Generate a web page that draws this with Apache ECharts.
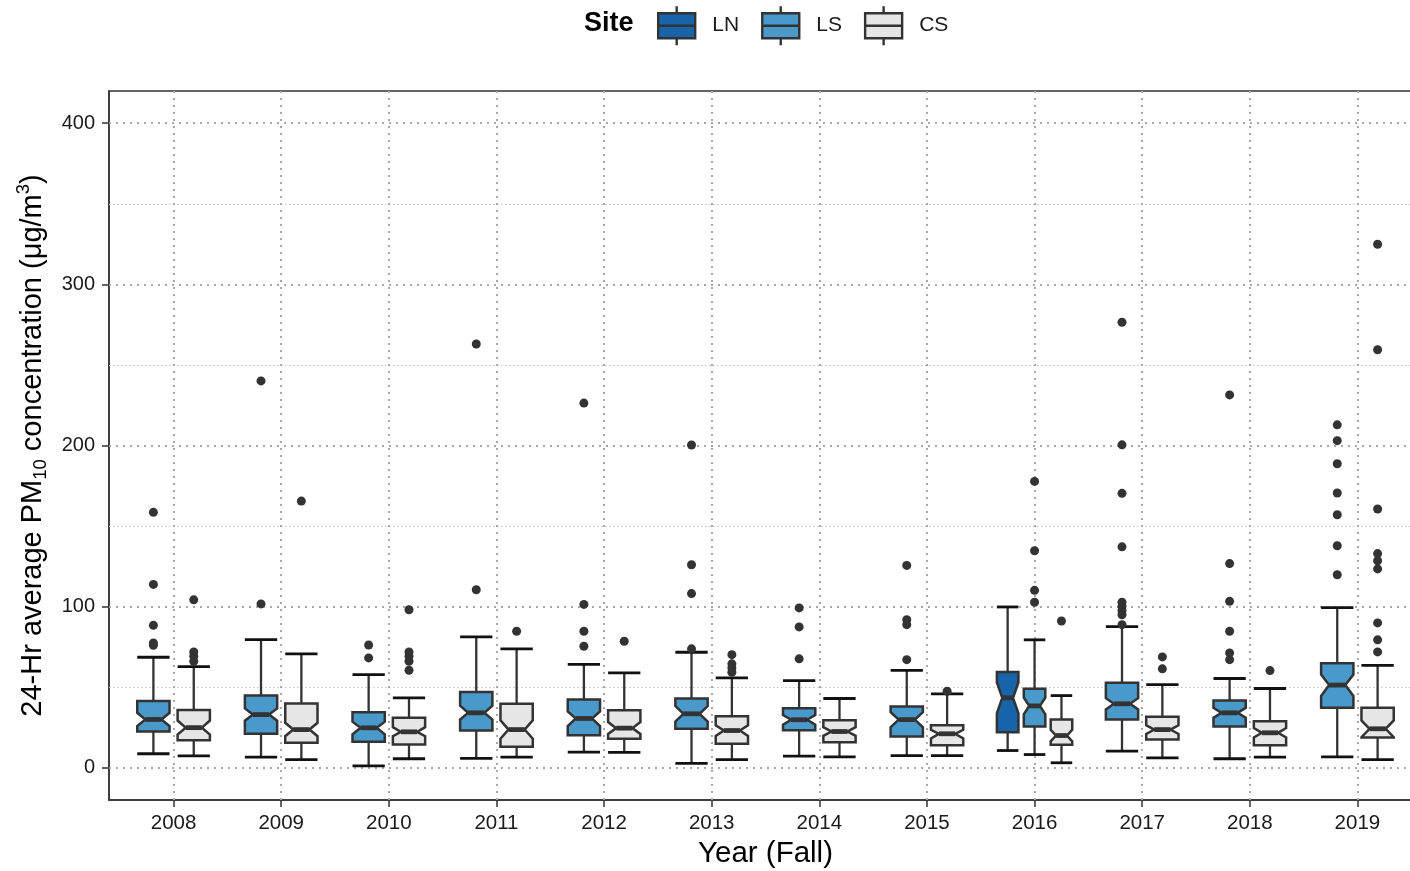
<!DOCTYPE html>
<html>
<head>
<meta charset="utf-8">
<script src="https://cdn.jsdelivr.net/npm/echarts@6/dist/echarts.min.js"></script>
<style>html,body{margin:0;padding:0;background:#fff;overflow:hidden;}#c{width:1410px;height:871px;}</style>
</head>
<body>
<div id="c"></div>
<script>
// ---------------- data ----------------
const years = ['2008','2009','2010','2011','2012','2013','2014','2015','2016','2017','2018','2019'];
const sites = ['LN','LS','CS'];
const yTicks = [0, 100, 200, 300, 400];
const yMinor = [50, 150, 250, 350];

// [min, q1, median, q3, max]  (null = no box that year)
const LN_stats = [null,null,null,null,null,null,null,null,[10.7,22.1,43.4,59.5,99.8],null,null,null];
const LN_notch = [null,null,null,null,null,null,null,null,[33.9,52.9],null,null,null];
const LN_out   = [[],[],[],[],[],[],[],[],[],[],[],[]];

const LS_stats = [
  [8.7,22.5,30.0,41.4,68.6],
  [6.6,21.1,33.0,44.8,79.5],
  [1.2,16.1,24.8,34.5,57.8],
  [5.8,23.1,34.1,47.1,81.2],
  [9.7,20.2,30.6,42.3,64.2],
  [2.7,24.2,33.5,43.0,71.7],
  [7.2,23.3,29.8,37.0,54.1],
  [7.6,19.4,29.9,38.0,60.5],
  [8.2,25.6,38.4,49.0,79.4],
  [10.3,29.9,39.7,52.7,87.6],
  [5.6,25.6,34.1,41.7,55.4],
  [6.8,37.2,51.3,64.9,99.4]
];
const LS_notch = [
  [25.9,34.1],[29.2,36.8],[20.8,28.6],[29.9,38.5],[25.9,35.0],[28.7,38.3],
  [26.8,32.7],[25.1,34.5],[33.2,43.6],[36.2,43.2],[31.0,37.2],[44.6,57.9]
];
const LS_out = [
  [158.5,113.8,88.4,77.5,76.0],
  [240.1,101.7],
  [76.2,68.2],
  [263.0,110.5],
  [226.3,101.4,84.7,75.4],
  [200.3,126.0,108.1,73.8],
  [99.2,87.4,67.6],
  [125.6,91.9,88.8,67.1],
  [177.7,134.7,110.1,102.7],
  [276.5,200.4,170.3,137.1,102.7,100.2,97.5,95.0,88.8],
  [231.4,126.7,103.3,84.7,71.3,67.1],
  [212.8,203.0,188.7,170.5,157.0,137.8,119.8]
];

const CS_stats = [
  [7.4,17.1,24.9,35.8,62.8],
  [5.0,15.5,23.7,39.9,70.7],
  [5.6,14.4,22.3,31.0,43.4],
  [6.6,13.0,23.7,39.7,73.8],
  [9.5,18.0,24.6,35.7,58.9],
  [5.1,14.9,23.1,32.0,55.8],
  [6.8,15.9,22.5,29.5,43.0],
  [7.6,14.0,21.1,26.4,45.9],
  [3.1,14.3,20.0,29.9,44.8],
  [6.2,17.5,23.7,31.6,51.6],
  [6.6,14.0,21.7,28.9,49.2],
  [5.1,18.8,24.2,37.2,63.6]
];
const CS_notch = [
  [20.6,29.3],[19.6,27.9],[19.6,25.2],[18.0,29.5],[21.0,28.4],[19.8,26.4],
  [19.8,25.2],[18.2,23.6],[16.4,23.6],[21.0,26.4],[18.8,24.6],[19.0,29.4]
];
const CS_out = [
  [104.2,71.9,69.2,66.1],
  [165.5],
  [98.1,71.9,69.2,66.1,60.5],
  [84.7],
  [78.5],
  [70.2,64.5,62.0,59.3],
  [],
  [47.5],
  [91.1],
  [68.8,61.4],
  [60.3],
  [324.9,259.4,160.6,132.9,128.5,123.4,89.9,79.4,71.9]
];

const colors = {LN:'#1764AB', LS:'#4A99CB', CS:'#E6E6E6'};
const statsBySite = {LN:LN_stats, LS:LS_stats, CS:CS_stats};
const notchBySite = {LN:LN_notch, LS:LS_notch, CS:CS_notch};
const outBySite = {LN:LN_out, LS:LS_out, CS:CS_out};

// ---------------- build ----------------
const DODGE = 0.75, BOXFRAC = 0.8, FONT = "'Liberation Sans', Arial, sans-serif";
const nGroups = years.map((y,i)=>sites.filter(s=>statsBySite[s][i]).length);

function buildSeries(site){
  const data = [], outs = [];
  years.forEach((y,i)=>{
    const st = statsBySite[site][i];
    if(!st) return;
    const present = sites.filter(s=>statsBySite[s][i]);
    const gi = present.indexOf(site);
    const n = notchBySite[site][i];
    data.push([i+1, nGroups[i], gi, st[0], st[1], st[2], st[3], st[4], n[0], n[1]]);
    outs.push(outBySite[site][i]);
  });
  return {
    name: site,
    type: 'custom',
    z: 5,
    itemStyle: {color: colors[site]},
    encode: {x: 0, y: 5},
    data: data,
    renderItem: function(params, api){
      const xi = api.value(0), ng = api.value(1), gi = api.value(2);
      const mn = api.value(3), q1 = api.value(4), md = api.value(5), q3 = api.value(6), mx = api.value(7);
      const nl = api.value(8), nh = api.value(9);
      const spacing = DODGE/ng;
      const cxv = xi - DODGE/2 + spacing*(gi+0.5);
      const hw = api.size([spacing*BOXFRAC, 0])[0]/2;
      const cx = api.coord([cxv, 0])[0];
      const Y = v => api.coord([cxv, v])[1];
      const nw = hw*0.5;
      const pts = [[cx-hw,Y(q3)],[cx-hw,Y(nh)],[cx-hw+nw,Y(md)],[cx-hw,Y(nl)],[cx-hw,Y(q1)],
                   [cx+hw,Y(q1)],[cx+hw,Y(nl)],[cx+hw-nw,Y(md)],[cx+hw,Y(nh)],[cx+hw,Y(q3)]];
      const ln = '#333333';
      const children = [
        {type:'line', shape:{x1:cx,y1:Y(q3),x2:cx,y2:Y(mx)}, style:{stroke:ln, lineWidth:2.3}},
        {type:'line', shape:{x1:cx,y1:Y(q1),x2:cx,y2:Y(mn)}, style:{stroke:ln, lineWidth:2.3}},
        {type:'line', shape:{x1:cx-hw,y1:Y(mx),x2:cx+hw,y2:Y(mx)}, style:{stroke:'#111', lineWidth:2.8}},
        {type:'line', shape:{x1:cx-hw,y1:Y(mn),x2:cx+hw,y2:Y(mn)}, style:{stroke:'#111', lineWidth:2.8}},
        {type:'polygon', shape:{points:pts}, style:{fill:colors[site], stroke:ln, lineWidth:2.5, lineJoin:'miter'}},
        {type:'line', shape:{x1:cx-hw+nw,y1:Y(md),x2:cx+hw-nw,y2:Y(md)}, style:{stroke:ln, lineWidth:4.8}}
      ];
      outs[params.dataIndex].forEach(v=>{
        children.push({type:'circle', shape:{cx:cx, cy:Y(v), r:4.5}, style:{fill:'#333333'}});
      });
      return {type:'group', children:children};
    }
  };
}

const majorStyle = {color:'#a8a8a8', width:2, type:[2,5]};
const minorStyle = {color:'#c4c4c4', width:1, type:[1.5,2.5]};
const gridLines = [];
yTicks.forEach(v=>gridLines.push({yAxis:v, lineStyle:majorStyle}));
yMinor.forEach(v=>gridLines.push({yAxis:v, lineStyle:minorStyle}));
years.forEach((y,i)=>gridLines.push({xAxis:i+1, lineStyle:majorStyle}));

const option = {
  animation: false,
  backgroundColor: '#ffffff',
  textStyle: {fontFamily: FONT},
  graphic: [{type:'text', left:584, top:10, style:{text:'Site', font:"bold 27px 'Liberation Sans', Arial, sans-serif", fill:'#000'}}],
  legend: {
    data: sites,
    left: 657, top: 5, padding: 0,
    itemWidth: 37, itemHeight: 39, itemGap: 22,
    icon: 'path://M0,7L37,7L37,32L0,32Z M0,19.5L37,19.5 M18.5,0L18.5,7 M18.5,32L18.5,39',
    itemStyle: {borderColor:'#333333', borderWidth:2.4},
    formatter: n => '{t|' + n + '}',
    textStyle: {fontSize:21, color:'#1a1a1a', fontFamily: FONT, rich:{t:{fontSize:21, padding:[0,0,0,12], fontFamily: FONT}}},
    selectedMode: false
  },
  grid: {left:109, top:91, width:1313, height:709, show:true, borderColor:'#333333', borderWidth:1.5,
         containLabel:false, outerBoundsMode:'none'},
  xAxis: {
    type: 'value', min: 0.4, max: 12.6,
    name: 'Year (Fall)', nameLocation: 'middle', nameGap: 35,
    nameTextStyle: {fontSize:29.5, color:'#000', fontFamily: FONT},
    axisLine: {show:true, onZero:false, lineStyle:{color:'#333333', width:1.5}},
    axisTick: {show:true, length:7, customValues: years.map((y,i)=>i+1), lineStyle:{color:'#333333', width:1.5}},
    axisLabel: {customValues: years.map((y,i)=>i+1), formatter: v => years[Math.round(v)-1], fontSize:20.5, color:'#1a1a1a', margin:13, fontFamily: FONT},
    splitLine: {show:false}
  },
  yAxis: {
    type: 'value', min: -20, max: 420,
    name: '{a|24-Hr average PM}{s|10}{a| concentration (μg/m}{p|3}{a|)}',
    nameLocation: 'middle', nameGap: 56, nameRotate: 90,
    nameTextStyle: {fontSize:29, color:'#000', fontFamily: FONT, padding:[0,0,0,0],
      rich: {
        a: {fontSize:29, lineHeight:36, color:'#000', fontFamily: FONT},
        s: {fontSize:18.5, lineHeight:14, verticalAlign:'bottom', color:'#000', fontFamily: FONT},
        p: {fontSize:18.5, lineHeight:10, verticalAlign:'top', color:'#000', fontFamily: FONT}
      }},
    axisLine: {show:true, onZero:false, lineStyle:{color:'#333333', width:1.5}},
    axisTick: {show:true, length:7, customValues: yTicks, lineStyle:{color:'#333333', width:1.5}},
    axisLabel: {customValues: yTicks, fontSize:20, color:'#1a1a1a', margin:14, fontFamily: FONT},
    splitLine: {show:false}
  },
  series: [
    {
      type: 'line', name: 'grid', data: [], silent: true, z: 1,
      markLine: {silent:true, symbol:['none','none'], label:{show:false}, animation:false, emphasis:{disabled:true}, data: gridLines}
    },
    buildSeries('LN'), buildSeries('LS'), buildSeries('CS')
  ]
};

const chart = echarts.init(document.getElementById('c'), null, {renderer:'canvas'});
chart.setOption(option);
</script>
</body>
</html>
